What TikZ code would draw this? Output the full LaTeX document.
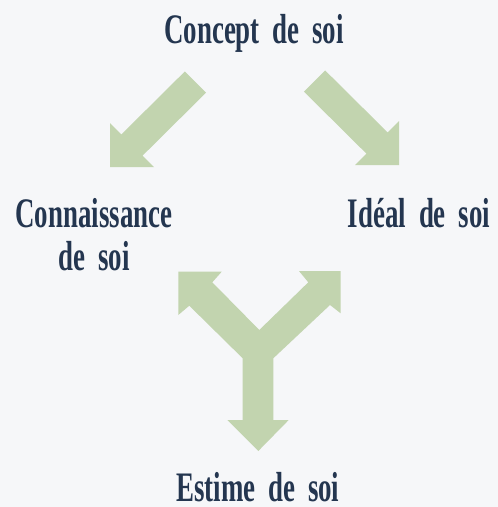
\documentclass[tikz,border=0pt]{standalone}
\usepackage{fontspec}
\newfontfamily\labelfont{Liberation Serif}[FakeStretch=0.64,WordSpace=1.9]
\usepackage{tikz}
\usetikzlibrary{calc}
\definecolor{fond}{HTML}{F6F7F9}
\definecolor{vert}{HTML}{C2D4AF}
\definecolor{encre}{HTML}{243650}

\begin{document}
\begin{tikzpicture}[x=1pt,y=-1pt,
        titre/.style={anchor=base,text=encre,inner sep=0pt,align=center,
            font=\labelfont\bfseries\fontsize{42}{43}\selectfont},
        fleche/.style={fill=vert,draw=none}]
                \fill[fond] (0,0) rectangle (498,507);
                \useasboundingbox (0,0) rectangle (498,507);

                \coordinate (T1) at (110,167);
                \coordinate (Q1) at (195.5,82);
                \coordinate (T2) at (399,165);
                \coordinate (Q2) at (314.5,81);

                \fill[fleche] ($(Q1)+(-10.6,-10.6)$) -- ($(Q1)+(10.6,10.6)$) -- ($(T1)+(32.6,-11.4)$) -- ($(T1)+(44,0)$) -- (T1) -- ($(T1)+(0,-44)$) -- ($(T1)+(11.4,-32.6)$) -- cycle;
                \fill[fleche] ($(Q2)+(10.6,-10.6)$) -- ($(Q2)+(-10.6,10.6)$) -- ($(T2)+(-32.6,-11.4)$) -- ($(T2)+(-44,0)$) -- (T2) -- ($(T2)+(0,-44)$) -- ($(T2)+(-11.4,-32.6)$) -- cycle;

                \fill[fleche] (178.3,271.7) -- (221.7,271.7) -- (212.3,282.3) -- (259.3,330) -- (308.3,282.3) -- (299,271) -- (340.7,271) -- (340.7,313.3) -- (330,305) -- (273.3,358.3) -- (273.3,420) -- (288.7,420) -- (258.3,451) -- (227.3,420) -- (242.7,420) -- (242.7,358.3) -- (189.3,305.7) -- (178.3,315) -- cycle;

                \node[titre] (concept) at (254,43) {Concept de soi};
                \node[titre] (connaissance) at (94,270) {Connaissance\\de soi};
                \node[titre] (ideal) at (419,227) {Idéal de soi};
                \node[titre] (estime) at (258,501) {Estime de soi};
            \end{tikzpicture}
\end{document}
